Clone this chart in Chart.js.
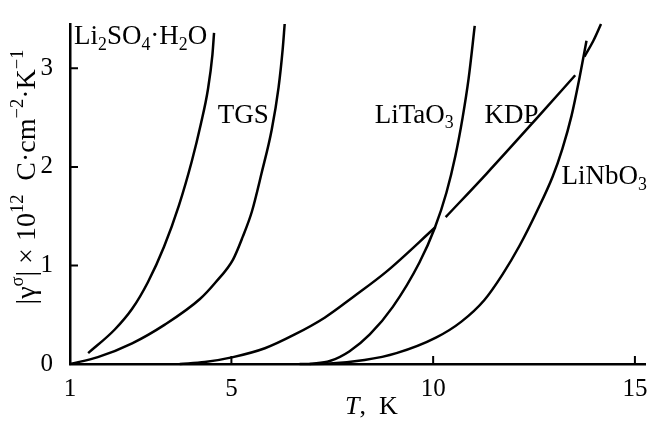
<!DOCTYPE html>
<html>
<head>
<meta charset="utf-8">
<script src="https://cdn.jsdelivr.net/npm/chart.js@4.4.1/dist/chart.umd.min.js"></script>
<style>
  html, body { margin: 0; padding: 0; background: #fff; }
</style>
</head>
<body>
<canvas id="pyroChart" width="651" height="423"></canvas>
<script>
// temperature (K) and |gamma sigma| x 1e12
const li2so4T = [1.45, 2.11, 2.54, 2.93, 3.33, 3.70, 4.02, 4.24, 4.42, 4.53, 4.57];
const li2so4G = [0.11, 0.35, 0.56, 0.83, 1.19, 1.61, 2.06, 2.43, 2.79, 3.14, 3.36];

const tgsT = [1.0, 1.69, 2.54, 3.35, 4.22, 4.61, 5.04, 5.28, 5.51, 5.75, 6.00, 6.17, 6.27, 6.32];
const tgsG = [0.0, 0.07, 0.21, 0.40, 0.66, 0.83, 1.06, 1.29, 1.55, 1.94, 2.38, 2.81, 3.19, 3.45];

const litaoT = [6.94, 7.44, 7.93, 8.43, 9.00, 9.66, 10.04, 10.33, 10.55, 10.73, 10.88, 11.03];
const litaoG = [0.0, 0.03, 0.13, 0.30, 0.58, 1.03, 1.38, 1.74, 2.11, 2.50, 2.90, 3.43];

// KDP is broken where it crosses LiTaO3 and LiNbO3
const kdpT = [3.72, 4.34, 5.04, 5.83, 6.57, 7.31, 8.05, 8.85, 10.06, 10.18, 10.31, 11.32, 12.56, 13.52, 13.64, 13.75, 13.97, 14.16];
const kdpG = [0.0, 0.02, 0.07, 0.16, 0.30, 0.47, 0.69, 0.94, 1.39, null, 1.49, 1.93, 2.49, 2.93, null, 3.12, 3.28, 3.45];

const linboT = [6.69, 7.44, 8.30, 9.09, 10.08, 10.70, 11.27, 11.72, 12.14, 12.56, 12.96, 13.20, 13.43, 13.62, 13.80];
const linboG = [0.0, 0.005, 0.04, 0.11, 0.27, 0.43, 0.65, 0.91, 1.20, 1.54, 1.90, 2.18, 2.52, 2.89, 3.28];

const xTicks = [1, 5, 10, 15];
const yTicks = [0, 1, 2, 3];

const curveLabels = [
  { text: 'Li_{2}SO_{4}·H_{2}O', x: 1.10, y: 3.25 },
  { text: 'TGS', x: 4.66, y: 2.45 },
  { text: 'LiTaO_{3}', x: 8.55, y: 2.45 },
  { text: 'KDP', x: 11.27, y: 2.45 },
  { text: 'LiNbO_{3}', x: 13.18, y: 1.83 }
];

const serif = '"Liberation Serif", "Times New Roman", serif';

function pts(T, G) {
  return T.map((t, i) => ({ x: t, y: G[i] }));
}

// split "a_{b}c^{d}" into plain / sub / sup runs
function parseRich(str) {
  const parts = [];
  const re = /([_^])\{([^}]*)\}|([^_^]+)/g;
  let m;
  while ((m = re.exec(str)) !== null) {
    if (m[3]) parts.push({ t: m[3] });
    else parts.push({ t: m[2], sub: m[1] === '_', sup: m[1] === '^' });
  }
  return parts;
}

function drawRich(ctx, parts, x, y, size, measureOnly) {
  let cx = x;
  parts.forEach(p => {
    let s = size, dy = 0;
    if (p.sub) { s = size * 0.66; dy = size * 0.22; }
    if (p.sup) { s = size * 0.66; dy = -size * 0.42; }
    ctx.font = (p.it ? 'italic ' : '') + s + 'px ' + serif;
    if (!measureOnly) ctx.fillText(p.t, cx, y + dy);
    cx += ctx.measureText(p.t).width;
  });
  return cx - x;
}

const decorPlugin = {
  id: 'decor',
  afterDraw(chart) {
    const ctx = chart.ctx;
    const xs = chart.scales.x, ys = chart.scales.y;
    const area = chart.chartArea;
    ctx.save();
    ctx.fillStyle = '#000';
    ctx.strokeStyle = '#000';
    ctx.lineWidth = 2;

    // inward tick marks
    ctx.beginPath();
    xTicks.slice(1).forEach(v => {
      const px = xs.getPixelForValue(v);
      ctx.moveTo(px, area.bottom);
      ctx.lineTo(px, area.bottom - 8);
    });
    yTicks.slice(1).forEach(v => {
      const py = ys.getPixelForValue(v);
      ctx.moveTo(area.left, py);
      ctx.lineTo(area.left + 8, py);
    });
    ctx.stroke();

    // curve labels
    ctx.textBaseline = 'alphabetic';
    ctx.textAlign = 'left';
    curveLabels.forEach(l => {
      drawRich(ctx, parseRich(l.text), xs.getPixelForValue(l.x), ys.getPixelForValue(l.y), 27);
    });

    // x axis title
    drawRich(ctx, [{ t: 'T', it: true }, { t: ',  K' }], 345, 414, 26);

    // y axis title, rotated
    const yParts = parseRich('|γ^{σ}| × 10^{12}  C·cm^{−2}·K^{−1}');
    ctx.translate(35, 177);
    ctx.rotate(-Math.PI / 2);
    const w = drawRich(ctx, yParts, 0, 0, 28, true);
    drawRich(ctx, yParts, -w / 2, 0, 28);
    ctx.restore();
  }
};

const line = (T, G) => ({
  data: pts(T, G),
  borderColor: '#000',
  borderWidth: 2.5,
  pointRadius: 0,
  cubicInterpolationMode: 'monotone',
  spanGaps: false,
  clip: false
});

new Chart(document.getElementById('pyroChart'), {
  type: 'line',
  data: {
    datasets: [
      line(li2so4T, li2so4G),
      line(tgsT, tgsG),
      line(litaoT, litaoG),
      line(kdpT, kdpG),
      line(linboT, linboG)
    ]
  },
  options: {
    responsive: false,
    animation: false,
    devicePixelRatio: 1,
    layout: { padding: { top: 13, right: 6, left: 0, bottom: 0 } },
    plugins: { legend: { display: false }, tooltip: { enabled: false } },
    scales: {
      x: {
        type: 'linear',
        min: 1,
        max: 15.25,
        afterBuildTicks: s => { s.ticks = xTicks.map(v => ({ value: v })); },
        afterFit: s => { s.height = 59; },
        grid: { display: false },
        border: { display: true, color: '#000', width: 2.5 },
        ticks: { color: '#000', font: { family: serif, size: 25 }, padding: 2, maxRotation: 0, autoSkip: false }
      },
      y: {
        type: 'linear',
        min: 0,
        max: 3.45,
        afterBuildTicks: s => { s.ticks = yTicks.map(v => ({ value: v })); },
        afterFit: s => { s.width = 70; },
        grid: { display: false },
        border: { display: true, color: '#000', width: 2.5 },
        ticks: { color: '#000', font: { family: serif, size: 25 }, padding: 9 }
      }
    }
  },
  plugins: [decorPlugin]
});
</script>
</body>
</html>
